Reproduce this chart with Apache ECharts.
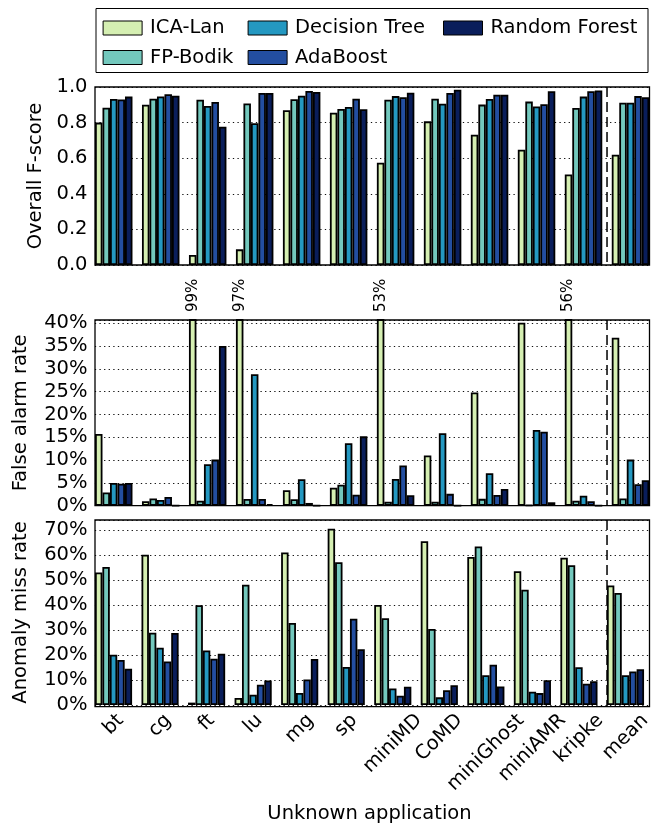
<!DOCTYPE html>
<html>
<head>
<meta charset="utf-8">
<script src="https://cdn.jsdelivr.net/npm/echarts@6/dist/echarts.min.js"></script>
<style>
  html, body { margin: 0; padding: 0; background: #fff; }
  #chart { width: 654px; height: 825px; }
</style>
</head>
<body>
<div id="chart"></div>
<script>
// categories and methods
const categories = ['bt', 'cg', 'ft', 'lu', 'mg', 'sp', 'miniMD', 'CoMD', 'miniGhost', 'miniAMR', 'kripke', 'mean'];
const methods = ['ICA-Lan', 'FP-Bodik', 'Decision Tree', 'AdaBoost', 'Random Forest'];

// Overall F-score
const fscoreICA = [0.80, 0.90, 0.056, 0.088, 0.87, 0.855, 0.575, 0.807, 0.732, 0.648, 0.509, 0.62];
const fscoreFP = [0.884, 0.934, 0.929, 0.908, 0.931, 0.876, 0.929, 0.934, 0.901, 0.918, 0.882, 0.912];
const fscoreDT = [0.933, 0.947, 0.893, 0.796, 0.951, 0.888, 0.949, 0.906, 0.933, 0.891, 0.946, 0.912];
const fscoreAda = [0.93, 0.959, 0.916, 0.966, 0.978, 0.934, 0.942, 0.966, 0.957, 0.903, 0.976, 0.949];
const fscoreRF = [0.946, 0.951, 0.777, 0.966, 0.972, 0.875, 0.968, 0.985, 0.957, 0.976, 0.981, 0.942];

// False alarm rate (%)
const falseICA = [15.7, 0.96, 99, 97, 3.4, 3.95, 53, 11.0, 24.8, 40.1, 56, 36.8];
const falseFP = [2.9, 1.6, 1.1, 1.47, 1.4, 4.6, 0.88, 0.88, 1.5, 0.1, 1.1, 1.6];
const falseDT = [5.0, 1.25, 9.1, 28.8, 5.8, 13.7, 5.85, 15.9, 7.1, 16.6, 2.2, 10.1];
const falseAda = [4.8, 1.9, 10.1, 1.47, 0.6, 2.4, 8.8, 2.6, 2.35, 16.2, 0.96, 4.7];
const falseRF = [5.0, 0, 35.0, 0.37, 0, 15.2, 2.3, 0, 3.66, 0.75, 0, 5.6];

// Anomaly miss rate (%)
const missICA = [53.0, 60.1, 0.95, 2.8, 61.0, 70.5, 40.0, 65.5, 59.2, 53.5, 58.9, 47.8];
const missFP = [55.2, 28.9, 39.9, 48.1, 32.8, 57.1, 34.7, 30.4, 63.4, 46.1, 55.9, 44.8];
const missDT = [20.1, 22.9, 21.8, 4.1, 4.8, 15.2, 6.6, 3.05, 11.9, 5.3, 15.1, 11.9];
const missAda = [18.0, 17.4, 18.5, 8.1, 10.2, 34.5, 3.7, 5.9, 16.1, 4.75, 8.5, 13.4];
const missRF = [14.5, 28.8, 20.5, 9.8, 18.4, 22.3, 7.3, 7.9, 7.4, 9.9, 9.5, 14.3];

const colors = ['#d5efb2', '#73c8bd', '#2498c1', '#234ea0', '#0a1e5b'];
const FONT = '"DejaVu Sans", sans-serif';
const FS = 19.5;
const FALSE_MAX = 40.7;
const MISS_MAX = 74;

// panels: [top, height]
const panels = [[87, 178], [320, 185.7], [520, 186.7]];
const GRID_LEFT = 90.25;
const GRID_W = 564;

const chart = echarts.init(document.getElementById('chart'));

// x label offsets so rotated labels are centred under the tick, like matplotlib
const ctx = document.createElement('canvas').getContext('2d');
ctx.font = FS + 'px "DejaVu Sans"';
const widths = categories.map(c => ctx.measureText(c).width);
const minW = Math.min(...widths);
const rich = {};
categories.forEach((c, i) => {
	const p = 0.5 * (widths[i] - minW);
	rich['l' + i] = { fontSize: FS, fontFamily: FONT, color: '#000', padding: [p, p, 0, 0] };
});

const gridLine = { show: true, lineStyle: { color: '#111', width: 1.1, type: [1.3, 3.3] } };

function yAxisFor(i, name, max, interval, fmt, gap) {
	return {
		type: 'value', gridIndex: i, min: 0, max: max, interval: interval,
		name: name, nameLocation: 'middle', nameGap: gap,
		nameTextStyle: { fontSize: FS, fontFamily: FONT, color: '#000' },
		axisLine: { show: false }, axisTick: { show: false },
		axisLabel: { fontSize: FS, fontFamily: FONT, color: '#000', margin: 2.75, formatter: fmt },
		splitLine: gridLine
	};
}

function xAxisFor(i, showLabels) {
	const ax = {
		type: 'category', gridIndex: i, data: categories,
		axisLine: { show: false }, axisTick: { show: false },
		axisLabel: { show: false }, splitLine: { show: false }
	};
	if (showLabels) {
		ax.axisLabel = {
			show: true, interval: 0, rotate: 45, align: 'center', verticalAlign: 'middle',
			margin: 5.5 + 0.354 * (minW + FS),
			formatter: (v, idx) => '{l' + idx + '|' + v + '}',
			rich: rich
		};
		ax.name = 'Unknown application';
		ax.nameLocation = 'middle';
		ax.nameGap = 99;
		ax.nameTextStyle = { fontSize: FS, fontFamily: FONT, color: '#000' };
	}
	return ax;
}

function barSeries(name, idx, gridIdx, data) {
	return {
		name: name, type: 'bar', xAxisIndex: gridIdx, yAxisIndex: gridIdx,
		data: data, barGap: '0%', barCategoryGap: '20.2%',
		itemStyle: { color: colors[idx], borderColor: '#000', borderWidth: 1.8 },
		label: {
			show: false, position: 'top', rotate: 90, align: 'left', verticalAlign: 'middle',
			distance: 7, formatter: '{c}%', fontSize: 15, fontFamily: FONT, color: '#000'
		}
	};
}

const clipped = (arr, max) => arr.map(v => (v > max ? { value: v, label: { show: true } } : v));

const fscoreSets = [fscoreICA, fscoreFP, fscoreDT, fscoreAda, fscoreRF];
const falseSets = [falseICA, falseFP, falseDT, falseAda, falseRF];
const missSets = [missICA, missFP, missDT, missAda, missRF];

const series = [];
methods.forEach((m, k) => series.push(barSeries(m, k, 0, fscoreSets[k])));
methods.forEach((m, k) => series.push(barSeries(m, k, 1, clipped(falseSets[k], FALSE_MAX))));
methods.forEach((m, k) => series.push(barSeries(m, k, 2, clipped(missSets[k], MISS_MAX))));

const legendBase = {
	padding: 0, itemWidth: 39, itemHeight: 14, icon: 'rect',
	itemStyle: { borderColor: '#000', borderWidth: 1 },
	textStyle: { fontSize: FS, fontFamily: FONT, color: '#000', padding: [0, 0, 0, 3] }
};
const legendSpots = [
	['ICA-Lan', 102.6, 18], ['Decision Tree', 247.6, 18], ['Random Forest', 443, 18],
	['FP-Bodik', 102.6, 47.5], ['AdaBoost', 247.6, 47.5]
];

chart.setOption({
	animation: false,
	grid: panels.map(p => ({ left: GRID_LEFT, top: p[0], width: GRID_W, height: p[1] })),
	legend: legendSpots.map(s => Object.assign({}, legendBase, { data: [s[0]], left: s[1], top: s[2] })),
	xAxis: [xAxisFor(0, false), xAxisFor(1, false), xAxisFor(2, true)],
	yAxis: [
		yAxisFor(0, 'Overall F-score', 1, 0.2, v => v.toFixed(1), 37),
		yAxisFor(1, 'False alarm rate', FALSE_MAX, 5, v => (v % 5 === 0 ? v + '%' : ''), 59),
		yAxisFor(2, 'Anomaly miss rate', MISS_MAX, 10, v => (v % 10 === 0 ? v + '%' : ''), 59)
	],
	series: series
});

// separator between kripke and mean, from the axis positions
const sepX = (chart.convertToPixel({ xAxisIndex: 0 }, 'kripke') + chart.convertToPixel({ xAxisIndex: 0 }, 'mean')) / 2;
const L = 95, R = 649.5;
const graphics = [];
panels.forEach(p => {
	const top = p[0], bottom = p[0] + p[1];
	// hide gridline overhang outside the frame
	graphics.push({ type: 'rect', z: 100, shape: { x: 89.5, y: top - 1, width: 5, height: p[1] + 2 }, style: { fill: '#fff' } });
	graphics.push({ type: 'rect', z: 100, shape: { x: R + 0.8, y: top - 1, width: 6, height: p[1] + 2 }, style: { fill: '#fff' } });
	graphics.push({ type: 'line', z: 101, shape: { x1: sepX, y1: top, x2: sepX, y2: bottom }, style: { stroke: '#000', lineWidth: 1.5, lineDash: [10, 5] } });
	graphics.push({ type: 'rect', z: 102, shape: { x: L, y: top, width: R - L, height: p[1] }, style: { fill: null, stroke: '#000', lineWidth: 1.3 } });
});
graphics.push({ type: 'rect', z: 102, shape: { x: 96, y: 8.5, width: 552, height: 64 }, style: { fill: null, stroke: '#000', lineWidth: 1 } });
chart.setOption({ graphic: graphics });
</script>
</body>
</html>
